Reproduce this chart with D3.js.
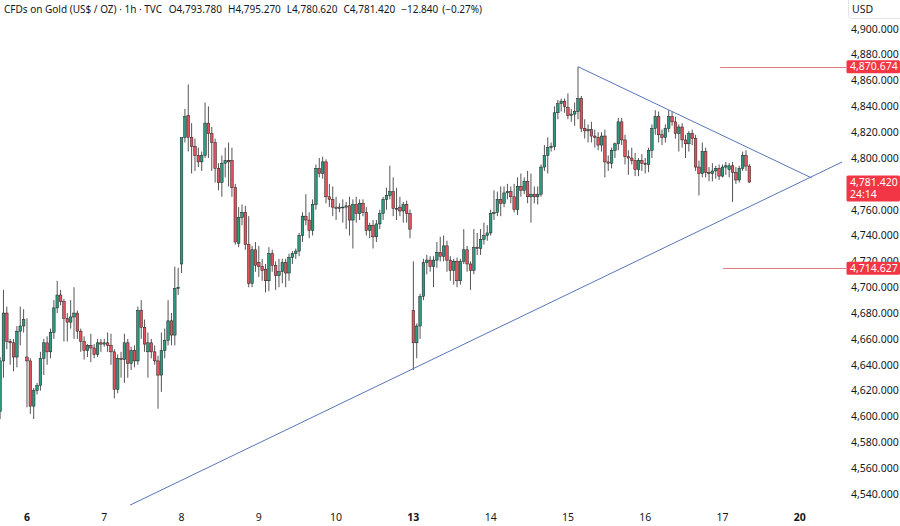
<!DOCTYPE html>
<html><head><meta charset="utf-8">
<script src="https://cdn.jsdelivr.net/npm/d3@7/dist/d3.min.js"></script>
<style>
html,body{margin:0;padding:0;background:#fff;}
svg{display:block;font-family:"Noto Sans","Open Sans",Roboto,sans-serif;}
</style></head><body>
<svg id="c" width="900" height="526"></svg>
<script>
// ---- data (hourly candles) ----
const opens = [4604,4643,4680,4658,4657,4646,4666,4670,4646,4643,4608,4620,4624,4645,4657,4650,4665,4684,4694,4689,4676,4673,4677,4680,4666,4658,4651,4655,4653,4648,4657,4656,4657,4655,4650,4621,4645,4644,4657,4641,4651,4643,4682,4669,4650,4657,4650,4643,4632,4651,4659,4674,4663,4699,4718,4816,4833,4816,4809,4802,4797,4802,4827,4819,4812,4792,4781,4796,4798,4798,4777,4734,4754,4758,4733,4703,4729,4719,4716,4714,4705,4726,4717,4709,4712,4719,4711,4723,4726,4728,4740,4755,4752,4744,4764,4792,4788,4797,4770,4768,4762,4761,4762,4762,4763,4752,4764,4757,4765,4758,4744,4748,4739,4749,4757,4768,4771,4774,4761,4762,4759,4764,4757,4682,4657,4670,4693,4719,4721,4716,4721,4727,4724,4732,4721,4713,4720,4705,4720,4729,4718,4713,4731,4730,4737,4740,4742,4757,4758,4768,4765,4773,4774,4770,4760,4778,4775,4782,4770,4772,4770,4772,4793,4802,4808,4809,4835,4842,4844,4839,4833,4834,4836,4846,4823,4821,4822,4817,4816,4810,4817,4797,4796,4806,4811,4828,4814,4801,4800,4798,4791,4798,4796,4795,4806,4823,4832,4818,4816,4823,4832,4828,4819,4824,4814,4811,4819,4815,4793,4788,4805,4789,4788,4790,4792,4786,4793,4791,4794,4789,4783,4792,4802,4793.78];
const highs = [4646,4698,4685,4660,4660,4670,4685,4683,4676,4645,4622,4626,4650,4660,4662,4668,4690,4705,4698,4691,4680,4690,4700,4682,4668,4662,4656,4664,4656,4660,4660,4660,4665,4664,4652,4648,4650,4664,4660,4654,4655,4685,4690,4675,4665,4660,4655,4647,4665,4668,4690,4680,4716,4715,4720,4838,4857,4827,4815,4808,4805,4843,4840,4824,4815,4796,4802,4808,4812,4808,4780,4762,4764,4763,4755,4732,4735,4732,4722,4718,4731,4729,4720,4722,4722,4722,4726,4728,4730,4742,4758,4772,4758,4768,4795,4800,4801,4799,4780,4778,4770,4765,4768,4766,4770,4768,4770,4768,4768,4762,4750,4752,4752,4760,4770,4777,4794,4785,4777,4770,4766,4767,4760,4720,4672,4695,4722,4725,4724,4724,4735,4739,4740,4736,4724,4722,4723,4722,4745,4732,4720,4745,4742,4745,4750,4748,4760,4775,4774,4778,4778,4780,4778,4780,4785,4788,4785,4790,4788,4778,4778,4795,4810,4816,4812,4840,4845,4846,4846,4850,4838,4843,4870.674,4848,4830,4826,4828,4822,4820,4820,4822,4802,4808,4812,4831,4831,4818,4806,4808,4804,4800,4803,4800,4808,4826,4837,4836,4822,4826,4837,4836,4832,4826,4827,4818,4821,4822,4818,4798,4812,4808,4793,4796,4794,4795,4795,4797,4796,4797,4793,4794,4805,4806,4795.27];
const lows = [4598,4630,4652,4640,4635,4638,4655,4665,4607,4602,4598,4617,4620,4632,4640,4645,4660,4680,4686,4658,4658,4668,4660,4660,4650,4644,4646,4642,4645,4646,4650,4654,4650,4640,4614,4618,4630,4626,4630,4636,4638,4640,4660,4650,4630,4645,4640,4606,4619,4645,4655,4655,4655,4694,4711,4812,4805,4788,4790,4793,4790,4800,4800,4790,4781,4775,4770,4785,4778,4770,4733,4731,4748,4729,4700,4700,4712,4708,4705,4696,4697,4712,4698,4700,4703,4700,4705,4718,4722,4724,4735,4748,4738,4740,4760,4785,4784,4765,4762,4755,4752,4758,4750,4745,4740,4730,4750,4752,4755,4740,4738,4730,4735,4745,4752,4760,4768,4755,4752,4755,4750,4750,4738,4636,4645,4660,4690,4710,4712,4700,4715,4720,4720,4712,4705,4702,4700,4702,4718,4712,4698,4710,4725,4725,4733,4736,4740,4752,4755,4755,4762,4768,4765,4758,4756,4770,4772,4765,4750,4765,4764,4770,4790,4788,4805,4806,4830,4836,4835,4830,4828,4825,4830,4820,4815,4812,4812,4808,4806,4805,4785,4790,4792,4800,4806,4810,4795,4787,4795,4786,4786,4790,4788,4789,4800,4818,4812,4810,4812,4820,4825,4815,4805,4808,4800,4805,4810,4790,4771,4785,4785,4782,4782,4784,4783,4785,4787,4785,4766,4780,4781,4790,4790,4780.62];
const closes = [4643,4680,4658,4657,4646,4666,4670,4675,4643,4608,4620,4624,4645,4657,4650,4665,4684,4694,4689,4676,4673,4677,4680,4666,4658,4651,4655,4653,4648,4657,4656,4657,4655,4650,4621,4645,4644,4657,4641,4651,4643,4682,4669,4656,4657,4650,4643,4632,4651,4659,4674,4663,4699,4700,4816,4832,4816,4809,4802,4797,4802,4827,4819,4812,4792,4781,4796,4798,4797,4777,4735,4754,4758,4733,4703,4729,4717,4716,4713,4705,4726,4717,4709,4712,4719,4711,4723,4726,4728,4740,4755,4752,4744,4764,4792,4788,4797,4770,4768,4762,4761,4762,4762,4763,4752,4764,4757,4765,4758,4744,4748,4739,4749,4757,4768,4771,4774,4761,4761,4759,4764,4757,4745,4657,4670,4693,4719,4721,4716,4721,4727,4724,4732,4721,4713,4720,4705,4720,4729,4718,4713,4731,4730,4737,4740,4742,4757,4758,4768,4765,4773,4774,4770,4760,4778,4775,4782,4770,4772,4770,4772,4793,4802,4808,4809,4835,4842,4844,4840,4833,4834,4836,4846,4823,4821,4822,4817,4816,4810,4817,4797,4796,4806,4811,4828,4814,4801,4800,4798,4791,4798,4796,4795,4806,4823,4832,4818,4816,4823,4832,4828,4819,4824,4814,4811,4819,4815,4793,4788,4805,4789,4788,4790,4792,4786,4793,4794,4794,4789,4783,4792,4802,4793.78,4781.42];

const dayLabels = ["6","7","8","9","10","13","14","15","16","17","20"];
const dayStart  = [8,31,54,77,100,123,146,169,192,215,238];
const dayBold   = [true,false,false,false,false,true,false,false,false,false,true];
// 4,780 sits under the last-price tag and is not shown
const priceTicks = [4540,4560,4580,4600,4620,4640,4660,4680,4700,4720,4740,4760,4800,4820,4840,4860,4880,4900];
// drawn trend lines: [startIndex, startPrice, endIndex, endPrice]
const trendLines = [[38.66,4531.4,250.6,4796.9],[172,4870.674,241.6,4784.5]];
// horizontal level drawings: [price, fromIndex]
const levels = [[4870.674,214.3],[4714.627,215.2]];
const lastPrice = 4781.42, countdown = "24:14";
const headerParts = ["CFDs on Gold (US$ / OZ) \u00b7 1h \u00b7 TVC","O4,793.780","H4,795.270","L4,780.620","C4,781.420","\u221212.840","(\u22120.27%)"];

// ---- drawing ----
const svg = d3.select("#c");
const W = 900, H = 526, plotRight = 846;
const x = d3.scaleLinear().domain([0,251.5]).range([0.1,845.1]);
const y = d3.scaleLinear().domain([4540,4900]).range([494,28.8]);
const fmt = d3.format(",.3f");

svg.append("rect").attr("width",W).attr("height",H).attr("fill","#fff");
svg.append("defs").append("clipPath").attr("id","plot").append("rect")
  .attr("x",0).attr("y",0).attr("width",plotRight).attr("height",H);

const g = svg.append("g").attr("clip-path","url(#plot)");
const data = opens.map((o,i)=>({i,o,h:highs[i],l:lows[i],c:closes[i]}));

// wicks
g.selectAll("line.wick").data(data).join("line").attr("class","wick")
  .attr("x1",d=>x(d.i)).attr("x2",d=>x(d.i))
  .attr("y1",d=>y(d.h)).attr("y2",d=>y(d.l))
  .attr("stroke","#555").attr("stroke-width",1);
// bodies
const bw = 2.6;
g.selectAll("rect.body").data(data).join("rect").attr("class","body")
  .attr("x",d=>x(d.i)-bw/2).attr("width",bw)
  .attr("y",d=>y(Math.max(d.o,d.c)))
  .attr("height",d=>Math.max(0.8,Math.abs(y(d.o)-y(d.c))))
  .attr("fill",d=>d.c>=d.o?"#2b9a7e":"#e2525d")
  .attr("stroke","#1f1f1f").attr("stroke-width",0.5);

// trend lines
g.selectAll("line.trend").data(trendLines).join("line").attr("class","trend")
  .attr("x1",d=>x(d[0])).attr("y1",d=>y(d[1]))
  .attr("x2",d=>x(d[2])).attr("y2",d=>y(d[3]))
  .attr("stroke","#5876b8").attr("stroke-width",1);

// horizontal levels
g.selectAll("line.level").data(levels).join("line").attr("class","level")
  .attr("x1",d=>x(d[1])).attr("x2",plotRight)
  .attr("y1",d=>Math.round(y(d[0]))+0.5).attr("y2",d=>Math.round(y(d[0]))+0.5)
  .attr("stroke","#e57c84").attr("stroke-width",1);

// price axis
const ax = svg.append("g");
ax.selectAll("text.pt").data(priceTicks).join("text").attr("class","pt")
  .attr("x",851).attr("y",d=>y(d)+3.8)
  .attr("font-size",10.5).attr("fill","#131722").text(d=>fmt(d));

// level labels
levels.forEach(lv=>{
  const yy = y(lv[0]);
  ax.append("rect").attr("x",846.5).attr("y",yy-6.5).attr("width",53.5).attr("height",13).attr("rx",1.5).attr("fill","#f23645");
  ax.append("text").attr("x",850).attr("y",yy+3.8).attr("font-size",10.5).attr("fill","#fff").text(fmt(lv[0]));
});
// last price label
{
  const yy = y(lastPrice);
  ax.append("rect").attr("x",846.5).attr("y",yy-6.5).attr("width",53.5).attr("height",26).attr("rx",1.5).attr("fill","#f23645");
  ax.append("text").attr("x",850).attr("y",yy+3.8).attr("font-size",10.5).attr("fill","#fff").text(fmt(lastPrice));
  ax.append("text").attr("x",850).attr("y",yy+16).attr("font-size",10.5).attr("fill","#fff").text(countdown);
}
// USD box
ax.append("rect").attr("x",848.5).attr("y",-4).attr("width",60).attr("height",22.5).attr("rx",3)
  .attr("fill","#fff").attr("stroke","#e0e3eb");
ax.append("text").attr("x",852).attr("y",13).attr("font-size",10.5).attr("fill","#131722").text("USD");

// time axis
svg.append("g").selectAll("text").data(dayLabels).join("text")
  .attr("x",(d,k)=>x(dayStart[k])).attr("y",521).attr("text-anchor","middle")
  .attr("font-size",10.5).attr("font-weight",(d,k)=>dayBold[k]?"bold":"normal")
  .attr("fill","#131722").text(d=>d);

// header
const ht = svg.append("text").attr("x",4).attr("y",13).attr("font-size",10)
  .attr("fill","#131722");
headerParts.forEach((t,k)=>{
  ht.append("tspan").attr("dx",k===0?0:(k===1?7:(k===6?4:6))).text(t);
});
</script>
</body></html>
